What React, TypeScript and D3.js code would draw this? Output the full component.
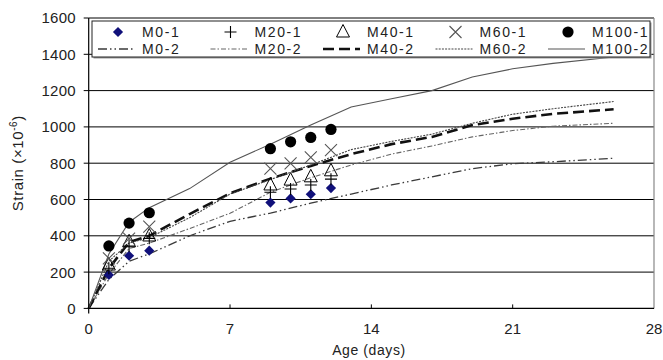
import * as d3 from 'd3'

// measured ages (days) for the test markers
const pointDays = [1, 2, 3, 9, 10, 11, 12]
const m0_1 = [184, 290, 318, 583, 606, 629, 663]
const m20_1 = [221, 344, 386, 640, 658, 680, 712]
const m40_1 = [239, 367, 399, 680, 707, 725, 758]
const m60_1 = [276, 385, 450, 770, 799, 832, 872]
const m100_1 = [344, 470, 527, 880, 918, 942, 986]

// ages (days) for the curves
const lineDays = [0, 1, 2, 3, 5, 7, 9, 11, 13, 15, 17, 19, 21, 23, 26]
const m0_2 = [0, 160, 260, 300, 400, 480, 525, 580, 630, 680, 725, 770, 797, 808, 827]
const m20_2 = [0, 190, 330, 360, 440, 524, 640, 720, 790, 850, 895, 945, 980, 1004, 1020]
const m40_2 = [0, 220, 365, 400, 520, 634, 715, 785, 850, 905, 945, 1010, 1045, 1072, 1097]
const m60_2 = [0, 260, 360, 390, 500, 630, 710, 790, 875, 920, 960, 1020, 1070, 1100, 1140]
const m100_2 = [0, 300, 475, 555, 660, 805, 905, 1010, 1110, 1155, 1200, 1275, 1320, 1350, 1385]

const xTicks = [0, 7, 14, 21, 28]
const yTicks = [0, 200, 400, 600, 800, 1000, 1200, 1400, 1600]

const FONT = '"Liberation Sans", Arial, sans-serif'

const x = d3.scaleLinear().domain([0, 28]).range([88.7, 654])
const y = d3.scaleLinear().domain([0, 1600]).range([308.4, 18])

const lineGen = d3
  .line<number>()
  .x((d, i) => x(lineDays[i]))
  .y((d) => y(d))

const curves = [
  { name: 'M0-2', data: m0_2, stroke: '#3a3a3a', width: 1.3, dash: '9,3,1.5,3,1.5,3' },
  { name: 'M20-2', data: m20_2, stroke: '#666', width: 1.1, dash: '5,2,1.5,2' },
  { name: 'M40-2', data: m40_2, stroke: '#111', width: 2.6, dash: '11,5' },
  { name: 'M60-2', data: m60_2, stroke: '#444', width: 1.1, dash: '2,1.2' },
  { name: 'M100-2', data: m100_2, stroke: '#555', width: 1.1, dash: null },
]

const Marker = ({ kind, cx, cy }: { kind: string; cx: number; cy: number }) => {
  if (kind === 'diamond') {
    return (
      <path
        d={d3.symbol(d3.symbolSquare, 52)()!}
        transform={`translate(${cx},${cy}) rotate(45)`}
        fill="#10107a"
      />
    )
  }
  if (kind === 'plus') {
    return (
      <path
        d={`M${cx - 6},${cy}H${cx + 6}M${cx},${cy - 6}V${cy + 6}`}
        stroke="#000"
        strokeWidth={1.1}
        fill="none"
      />
    )
  }
  if (kind === 'triangle') {
    return (
      <path
        d={`M${cx},${cy - 7.5}L${cx + 6.5},${cy + 5}L${cx - 6.5},${cy + 5}Z`}
        stroke="#000"
        strokeWidth={1}
        fill="none"
      />
    )
  }
  if (kind === 'cross') {
    return (
      <path
        d={`M${cx - 6},${cy - 6}L${cx + 6},${cy + 6}M${cx - 6},${cy + 6}L${cx + 6},${cy - 6}`}
        stroke="#555"
        strokeWidth={1.1}
        fill="none"
      />
    )
  }
  return <circle cx={cx} cy={cy} r={5.6} fill="#000" />
}

const markerSeries = [
  { name: 'M0-1', data: m0_1, kind: 'diamond' },
  { name: 'M20-1', data: m20_1, kind: 'plus' },
  { name: 'M40-1', data: m40_1, kind: 'triangle' },
  { name: 'M60-1', data: m60_1, kind: 'cross' },
  { name: 'M100-1', data: m100_1, kind: 'circle' },
]

export default function App() {
  const [x0, x1] = x.range()
  const [y0, y1] = y.range()
  const legendX = 92
  const legendY = 21
  const colW = 112.5

  return (
    <svg
      width={663}
      height={360}
      style={{ position: 'absolute', left: 0, top: 0, background: '#fff' }}
      fontFamily={FONT}
    >
      {/* gridlines */}
      {yTicks.slice(1).map((t) => (
        <line key={t} x1={x0} x2={x1} y1={y(t)} y2={y(t)} stroke="#000" strokeWidth={1} />
      ))}
      {/* right border */}
      <line x1={x1} x2={x1} y1={y1} y2={y0} stroke="#888" strokeWidth={1.2} />

      {/* curves */}
      {curves.map((c) => (
        <path
          key={c.name}
          d={lineGen(c.data)!}
          fill="none"
          stroke={c.stroke}
          strokeWidth={c.width}
          strokeDasharray={c.dash ?? undefined}
        />
      ))}

      {/* markers */}
      {markerSeries.map((s) =>
        s.data.map((v, i) => (
          <Marker key={s.name + i} kind={s.kind} cx={x(pointDays[i])} cy={y(v)} />
        ))
      )}

      {/* axes */}
      <line x1={x0} x2={x0} y1={y1} y2={y0 + 5} stroke="#000" strokeWidth={1.2} />
      <line x1={x0} x2={x1} y1={y0} y2={y0} stroke="#000" strokeWidth={1.2} />
      {yTicks.map((t) => (
        <g key={t}>
          <line x1={x0 - 5} x2={x0} y1={y(t)} y2={y(t)} stroke="#000" />
          <text
            x={76}
            y={y(t)}
            dy="0.36em"
            textAnchor="end"
            fontSize={15}
            letterSpacing={0.3}
            fill="#222"
          >
            {t}
          </text>
        </g>
      ))}
      {xTicks.map((t) => (
        <g key={t}>
          {t > 0 && t < 28 && <line x1={x(t)} x2={x(t)} y1={y0 - 4} y2={y0} stroke="#000" />}
          <text x={x(t)} y={334} textAnchor="middle" fontSize={15} fill="#222">
            {t}
          </text>
        </g>
      ))}

      {/* axis titles */}
      <text x={369} y={355} textAnchor="middle" fontSize={14} letterSpacing={0.6} fill="#222">
        Age (days)
      </text>
      <text
        transform={`translate(23,${(y0 + y1) / 2}) rotate(-90)`}
        textAnchor="middle"
        fontSize={15}
        letterSpacing={0.6}
        fill="#222"
      >
        Strain (×10
        <tspan fontSize={10} dy={-6}>
          -6
        </tspan>
        <tspan dy={6}>)</tspan>
      </text>

      {/* legend */}
      <rect x={legendX + 1.5} y={legendY + 1.5} width={558} height={36} fill="#999" />
      <rect x={legendX} y={legendY} width={558} height={36} fill="#fff" stroke="#222" strokeWidth={1} />
      {markerSeries.map((s, i) => (
        <g key={s.name}>
          <Marker kind={s.kind} cx={legendX + 26 + i * colW} cy={legendY + 11} />
          <text
            x={legendX + 50 + i * colW}
            y={legendY + 11}
            dy="0.36em"
            fontSize={14}
            letterSpacing={1.6}
            fill="#222"
          >
            {s.name}
          </text>
        </g>
      ))}
      {curves.map((c, i) => (
        <g key={c.name}>
          <line
            x1={legendX + 6 + i * colW}
            x2={legendX + 43 + i * colW}
            y1={legendY + 28}
            y2={legendY + 28}
            stroke={c.stroke}
            strokeWidth={c.width}
            strokeDasharray={c.dash ?? undefined}
          />
          <text
            x={legendX + 50 + i * colW}
            y={legendY + 28}
            dy="0.36em"
            fontSize={14}
            letterSpacing={1.6}
            fill="#222"
          >
            {c.name}
          </text>
        </g>
      ))}
    </svg>
  )
}
